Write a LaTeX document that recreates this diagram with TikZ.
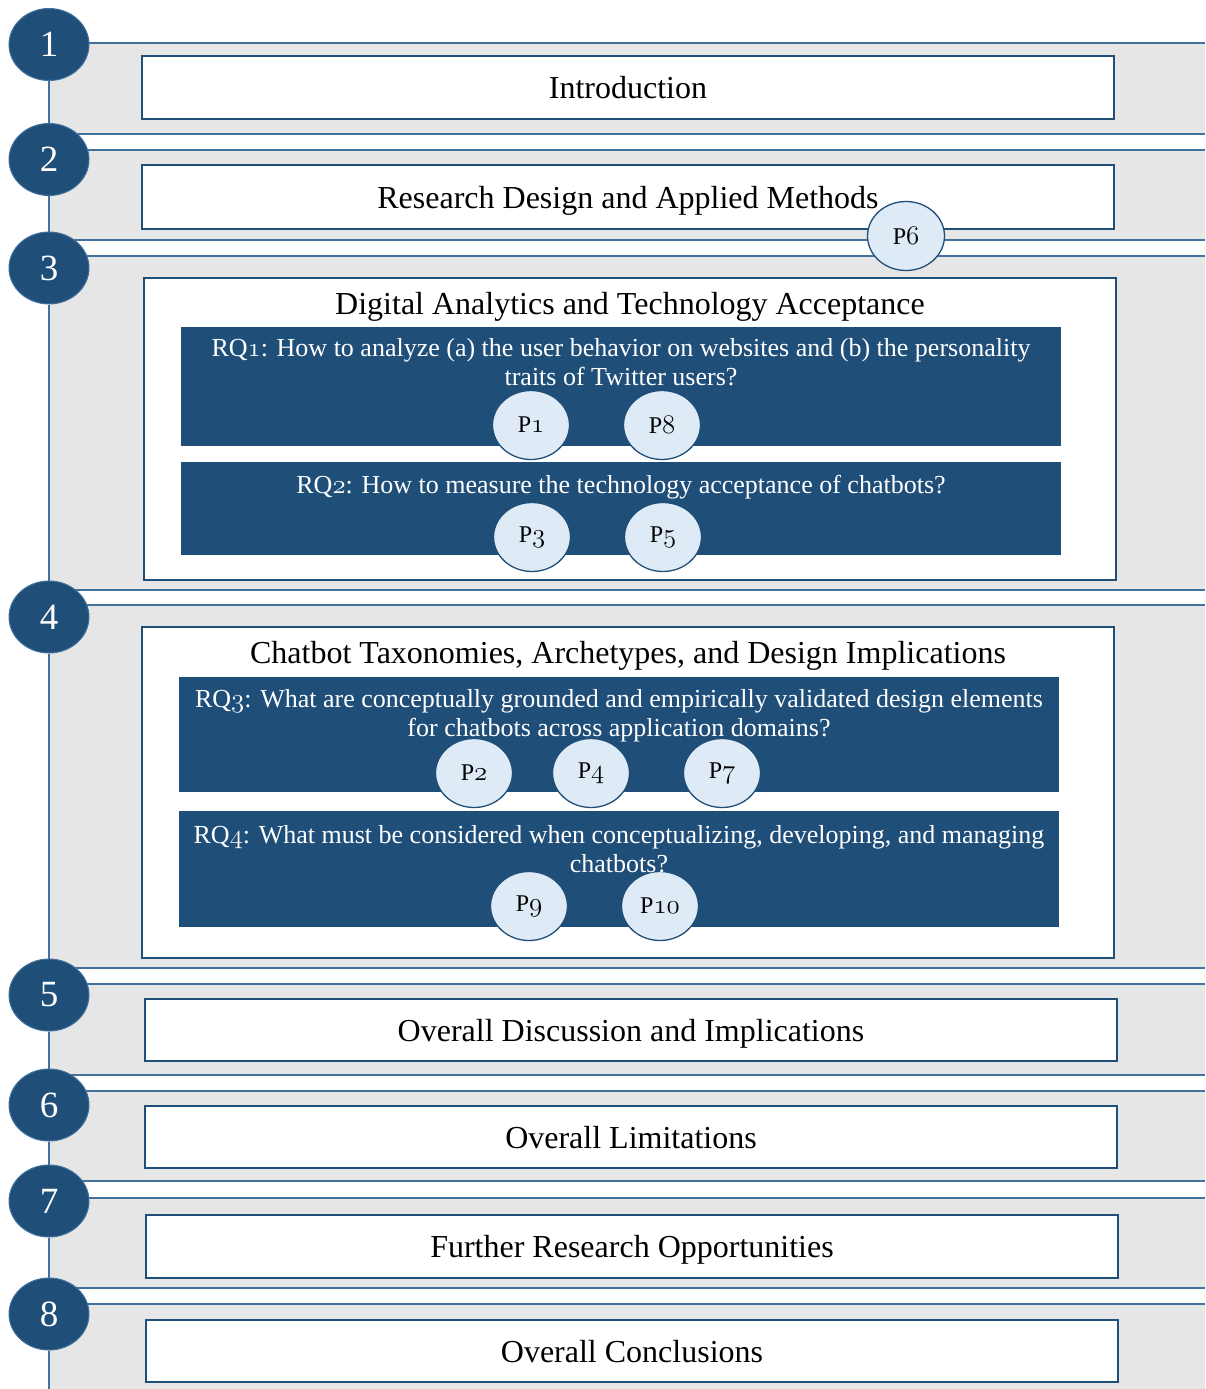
\documentclass[tikz,border=0pt]{standalone}
\usepackage{fontspec}
\setmainfont{Liberation Serif}
\usetikzlibrary{shapes.geometric}

\definecolor{navy}{HTML}{1F4E79}
\definecolor{bandline}{HTML}{41719C}
\definecolor{bandgrey}{HTML}{E6E6E6}
\definecolor{pfill}{HTML}{DEEAF6}

% old-style figures for paper and question numbers
\newcommand{\osn}[1]{{\usefont{OML}{cmm}{m}{it}\scalebox{1.08}{#1}}}

\tikzset{
  numdot/.style={ellipse, fill=navy, draw=bandline, line width=1pt,
    minimum width=80pt, minimum height=72pt, inner sep=0pt,
    text=white, font=\fontsize{37}{37}\selectfont},
  secbox/.style={draw=navy, line width=1.8pt, fill=white, inner sep=0pt,
    text height=22pt, text depth=0pt, font=\fontsize{32}{32}\selectfont},
  heading/.style={font=\fontsize{32}{32}\selectfont, inner sep=0pt,
    text height=22pt, text depth=0pt},
  rqbox/.style={fill=navy, inner sep=0pt, minimum width=880pt},
  rqtext/.style={text=white, align=center, inner sep=0pt,
    font=\fontsize{26}{29}\selectfont},
  paper/.style={ellipse, fill=pfill, draw=navy, line width=1.3pt,
    minimum width=77pt, minimum height=69pt, inner sep=0pt,
    font=\fontsize{24}{24}\selectfont},
  band/.style={fill=bandgrey},
  bandedge/.style={draw=bandline, line width=1.3pt},
  spine/.style={draw=bandline, line width=1.3pt},
}

\begin{document}
\begin{tikzpicture}[x=1pt, y=-1pt]
\useasboundingbox (0,0) rectangle (1205,1389);

% grey section bands, open on the right
\foreach \t/\b in {43/134, 150/240, 256/590, 605/968, 984/1075, 1091/1181, 1198/1288} {
  \fill[band] (49,\t) rectangle (1205,\b);
  \draw[bandedge] (1205,\t) -- (49,\t);
  \draw[bandedge] (49,\b) -- (1205,\b);
}
\fill[band] (49,1304) rectangle (1205,1389);
\draw[bandedge] (1205,1304) -- (49,1304);

% section number dots
\node[numdot] (c1) at (49,44.5) {1};
\node[numdot] (c2) at (49,159.5) {2};
\node[numdot] (c3) at (49,268) {3};
\node[numdot] (c4) at (49,617) {4};
\node[numdot] (c5) at (49,995) {5};
\node[numdot] (c6) at (49,1105) {6};
\node[numdot] (c7) at (49,1201) {7};
\node[numdot] (c8) at (49,1314) {8};
\coordinate (spineend) at (49,1389);

% timeline spine
\draw[spine] (c1) -- (c2);
\draw[spine] (c2) -- (c3);
\draw[spine] (c3) -- (c4);
\draw[spine] (c4) -- (c5);
\draw[spine] (c5) -- (c6);
\draw[spine] (c6) -- (c7);
\draw[spine] (c7) -- (c8);
\draw[spine] (c8) -- (spineend);

% chapter boxes
\node[secbox, minimum width=972pt, minimum height=63pt] (b1) at (628,87.5) {Introduction};
\node[secbox, minimum width=972pt, minimum height=64pt] (b2) at (628,197) {Research Design and Applied Methods};
\node[secbox, minimum width=972pt, minimum height=302pt] (b3) at (630,429) {};
\node[secbox, minimum width=972pt, minimum height=331pt] (b4) at (628,792.5) {};
\node[secbox, minimum width=972pt, minimum height=62pt] (b5) at (631,1030) {Overall Discussion and Implications};
\node[secbox, minimum width=972pt, minimum height=62pt] (b6) at (631,1137) {Overall Limitations};
\node[secbox, minimum width=972pt, minimum height=63pt] (b7) at (632,1246.5) {Further Research Opportunities};
\node[secbox, minimum width=972pt, minimum height=62pt] (b8) at (632,1351) {Overall Conclusions};

\node[heading] (h3) at (630,303) {Digital Analytics and Technology Acceptance};
\node[heading] (h4) at (628,652) {Chatbot Taxonomies, Archetypes, and Design Implications};

% research question panels
\node[rqbox, minimum height=119pt] (rq1) at (621,386.5) {};
\node[rqbox, minimum height=93pt] (rq2) at (621,508.5) {};
\node[rqbox, minimum height=115pt] (rq3) at (619,734.5) {};
\node[rqbox, minimum height=116pt] (rq4) at (619,869) {};

% papers
\node[paper] (p6) at (906,236) {P\osn{6}};
\node[paper] (p1) at (531,425) {P\osn{1}};
\node[paper] (p8) at (662,425) {P\osn{8}};
\node[paper] (p3) at (532,537) {P\osn{3}};
\node[paper] (p5) at (663,537) {P\osn{5}};
\node[paper] (p2) at (474,773) {P\osn{2}};
\node[paper] (p4) at (591,773) {P\osn{4}};
\node[paper] (p7) at (722,773) {P\osn{7}};
\node[paper] (p9) at (529,906) {P\osn{9}};
\node[paper] (p10) at (660,906) {P\osn{10}};

% research question texts
\node[rqtext] (t1) at (621,362.5) {RQ\osn{1}: How to analyze (a) the user behavior on websites and (b) the personality\\traits of Twitter users?};
\node[rqtext] (t2) at (621,487) {RQ\osn{2}: How to measure the technology acceptance of chatbots?};
\node[rqtext] (t3) at (619,715.5) {RQ\osn{3}: What are conceptually grounded and empirically validated design elements\\for chatbots across application domains?};
\node[rqtext] (t4) at (619,849) {RQ\osn{4}: What must be considered when conceptualizing, developing, and managing\\chatbots?};
\end{tikzpicture}
\end{document}
